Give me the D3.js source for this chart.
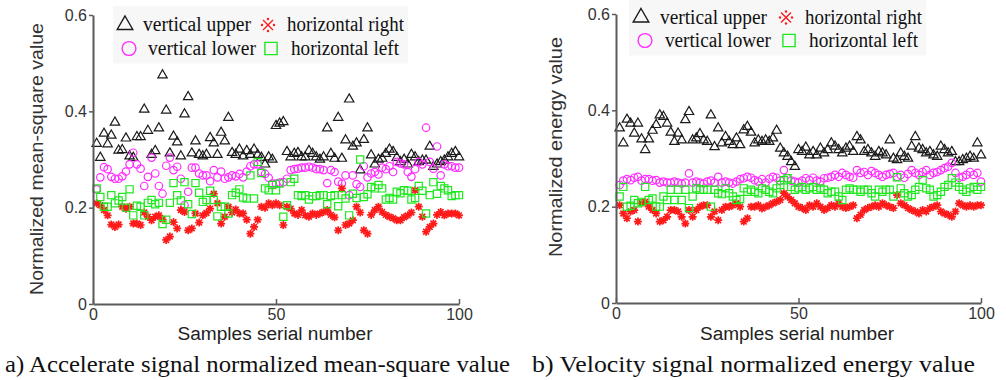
<!DOCTYPE html>
<html>
<head>
<meta charset="utf-8">
<script src="https://cdn.jsdelivr.net/npm/d3@7"></script>
<style>
body{margin:0;background:#fff}
svg{display:block}
</style>
</head>
<body>
<script>
// sample index (x) shared by every series
const samples=d3.range(1,101);

// a) accelerate signal, normalized mean-square value
const accUpper=[0.333,0.304,0.354,0.332,0.35,0.377,0.319,0.32,0.344,0.307,
  0.304,0.347,0.347,0.404,0.36,0.31,0.318,0.365,0.475,0.402,
  0.313,0.348,0.336,0.307,0.394,0.43,0.313,0.338,0.31,0.307,
  0.31,0.345,0.334,0.31,0.356,0.338,0.387,0.314,0.31,0.321,
  0.307,0.318,0.31,0.321,0.31,0.304,0.29,0.305,0.30,0.37,
  0.375,0.378,0.316,0.305,0.312,0.314,0.305,0.305,0.318,0.312,
  0.305,0.30,0.305,0.365,0.312,0.302,0.387,0.302,0.34,0.425,
  0.327,0.334,0.278,0.341,0.365,0.309,0.29,0.30,0.302,0.312,
  0.321,0.316,0.304,0.295,0.30,0.29,0.31,0.305,0.295,0.298,
  0.298,0.327,0.285,0.29,0.295,0.298,0.305,0.312,0.316,0.305];
const accLower=[0.238,0.263,0.284,0.28,0.264,0.26,0.26,0.265,0.275,0.29,
  0.314,0.29,0.281,0.245,0.264,0.304,0.271,0.245,0.229,0.287,
  0.304,0.278,0.285,0.26,0.205,0.233,0.283,0.283,0.271,0.267,
  0.267,0.255,0.278,0.263,0.275,0.26,0.263,0.267,0.265,0.27,
  0.263,0.275,0.286,0.29,0.29,0.274,0.27,0.262,0.25,0.25,
  0.252,0.253,0.26,0.278,0.28,0.281,0.283,0.283,0.285,0.283,
  0.28,0.28,0.278,0.251,0.278,0.274,0.254,0.25,0.267,0.226,
  0.267,0.249,0.243,0.286,0.263,0.271,0.274,0.269,0.283,0.28,
  0.286,0.274,0.295,0.292,0.29,0.274,0.264,0.28,0.295,0.29,
  0.366,0.295,0.281,0.327,0.267,0.29,0.286,0.286,0.283,0.283];
const accRight=[0.209,0.205,0.195,0.184,0.165,0.16,0.165,0.202,0.198,0.202,
  0.167,0.167,0.164,0.19,0.181,0.174,0.181,0.184,0.176,0.133,
  0.14,0.17,0.157,0.195,0.191,0.153,0.157,0.188,0.169,0.184,
  0.189,0.198,0.229,0.209,0.167,0.181,0.202,0.19,0.196,0.188,
  0.188,0.175,0.146,0.16,0.175,0.202,0.2,0.209,0.205,0.209,
  0.205,0.164,0.202,0.198,0.188,0.185,0.195,0.184,0.181,0.188,
  0.185,0.188,0.191,0.195,0.185,0.18,0.153,0.24,0.164,0.167,
  0.174,0.202,0.19,0.153,0.146,0.185,0.195,0.202,0.191,0.185,
  0.181,0.178,0.174,0.174,0.18,0.184,0.19,0.236,0.202,0.181,
  0.15,0.16,0.167,0.185,0.191,0.184,0.188,0.188,0.188,0.184];
const accLeft=[0.24,0.222,0.202,0.202,0.226,0.209,0.215,0.222,0.20,0.238,
  0.184,0.204,0.202,0.184,0.21,0.216,0.207,0.21,0.166,0.175,
  0.21,0.251,0.226,0.215,0.253,0.207,0.187,0.251,0.231,0.212,
  0.216,0.235,0.216,0.182,0.202,0.202,0.188,0.226,0.231,0.238,
  0.221,0.219,0.267,0.219,0.295,0.272,0.24,0.236,0.247,0.236,
  0.25,0.181,0.205,0.253,0.26,0.226,0.224,0.226,0.217,0.224,
  0.224,0.226,0.226,0.207,0.224,0.226,0.203,0.226,0.219,0.184,
  0.229,0.22,0.30,0.222,0.228,0.243,0.24,0.247,0.24,0.217,
  0.22,0.217,0.233,0.23,0.236,0.235,0.217,0.22,0.245,0.235,
  0.188,0.226,0.253,0.229,0.245,0.24,0.236,0.224,0.226,0.226];

// b) velocity signal, normalized energy value
const velUpper=[0.363,0.332,0.381,0.373,0.352,0.373,0.34,0.318,0.34,0.358,
  0.37,0.39,0.387,0.373,0.354,0.335,0.352,0.338,0.38,0.397,
  0.338,0.342,0.351,0.338,0.335,0.39,0.324,0.363,0.332,0.345,
  0.335,0.328,0.342,0.328,0.359,0.366,0.354,0.332,0.338,0.335,
  0.338,0.335,0.342,0.358,0.321,0.311,0.304,0.293,0.283,0.318,
  0.314,0.323,0.307,0.314,0.307,0.321,0.311,0.318,0.332,0.325,
  0.318,0.311,0.321,0.325,0.314,0.345,0.338,0.314,0.318,0.311,
  0.304,0.314,0.311,0.307,0.338,0.3,0.297,0.311,0.304,0.3,
  0.325,0.345,0.321,0.318,0.311,0.314,0.307,0.304,0.325,0.318,
  0.311,0.314,0.293,0.293,0.297,0.3,0.304,0.3,0.332,0.307];
const velLower=[0.245,0.254,0.257,0.255,0.26,0.262,0.254,0.257,0.257,0.254,
  0.255,0.25,0.252,0.25,0.25,0.252,0.25,0.248,0.25,0.269,
  0.25,0.252,0.25,0.248,0.252,0.254,0.25,0.262,0.25,0.252,
  0.25,0.248,0.252,0.257,0.259,0.262,0.26,0.255,0.252,0.257,
  0.25,0.258,0.262,0.26,0.254,0.276,0.259,0.254,0.252,0.25,
  0.254,0.259,0.255,0.26,0.254,0.252,0.259,0.26,0.262,0.266,
  0.262,0.27,0.266,0.262,0.26,0.276,0.27,0.272,0.266,0.274,
  0.27,0.266,0.262,0.266,0.268,0.27,0.262,0.266,0.26,0.268,
  0.276,0.27,0.266,0.272,0.276,0.266,0.27,0.272,0.276,0.28,
  0.283,0.291,0.27,0.26,0.262,0.266,0.272,0.266,0.27,0.252];
const velRight=[0.203,0.186,0.176,0.19,0.193,0.169,0.207,0.21,0.2,0.193,
  0.186,0.169,0.172,0.179,0.193,0.193,0.19,0.179,0.165,0.193,
  0.179,0.193,0.2,0.203,0.203,0.179,0.19,0.172,0.193,0.2,
  0.2,0.203,0.207,0.2,0.169,0.176,0.2,0.2,0.203,0.196,
  0.2,0.203,0.207,0.21,0.214,0.228,0.221,0.214,0.207,0.2,
  0.197,0.193,0.203,0.2,0.207,0.2,0.193,0.197,0.203,0.2,
  0.207,0.2,0.197,0.2,0.203,0.176,0.183,0.193,0.197,0.2,
  0.203,0.2,0.207,0.203,0.2,0.197,0.224,0.207,0.203,0.197,
  0.193,0.19,0.186,0.193,0.19,0.197,0.2,0.203,0.19,0.186,
  0.183,0.179,0.19,0.207,0.203,0.2,0.203,0.2,0.203,0.203];
const velLeft=[0.221,0.241,0.2,0.202,0.214,0.207,0.21,0.241,0.214,0.217,
  0.2,0.2,0.221,0.214,0.235,0.214,0.235,0.214,0.235,0.197,
  0.221,0.238,0.235,0.235,0.235,0.2,0.235,0.228,0.226,0.238,
  0.228,0.221,0.214,0.216,0.238,0.231,0.235,0.231,0.228,0.238,
  0.235,0.231,0.228,0.238,0.245,0.255,0.259,0.241,0.235,0.238,
  0.241,0.235,0.238,0.241,0.235,0.238,0.235,0.228,0.231,0.231,
  0.221,0.214,0.235,0.238,0.235,0.235,0.231,0.235,0.235,0.228,
  0.221,0.235,0.231,0.235,0.235,0.221,0.261,0.238,0.228,0.221,
  0.224,0.235,0.241,0.255,0.238,0.235,0.221,0.224,0.231,0.241,
  0.245,0.259,0.25,0.241,0.235,0.231,0.238,0.241,0.235,0.241];

const seriesNames=["vertical upper","vertical lower","horizontal right","horizontal left"];
const yTicks=[0,0.2,0.4,0.6];
const xTicks=[0,50,100];

const w=1006, h=380;
const svg=d3.select("body").append("svg").attr("width",w).attr("height",h);

const SANS="'Liberation Sans', Arial, sans-serif";
const SERIF="'Liberation Serif', 'Times New Roman', serif";

// asterisk "*" marker
const star=r=>{
  const k=r*0.72;
  return `M${-r},0L${r},0M0,${-r}L0,${r}M${-k},${-k}L${k},${k}M${-k},${k}L${k},${-k}`;
};

const styles=[
  {kind:"tri", stroke:"#1a1a1a"},
  {kind:"circle", stroke:"#ff2cff"},
  {kind:"star", stroke:"#ff1a1a"},
  {kind:"square", stroke:"#1fe81f"}
];
function markerPath(kind,big){
  if(kind==="tri") return d3.symbol(d3.symbolTriangle, big?105:38)();
  if(kind==="circle") return d3.symbol(d3.symbolCircle, big?150:44)();
  if(kind==="square") return d3.symbol(d3.symbolSquare, big?150:52)();
  return star(4);
}

const panels=[
  {x0:93,x1:459,y0:304,y1:15,
   series:[accUpper,accLower,accRight,accLeft],
   ylabel:"Normalized mean-square value", ylx:43, lyc:159, lyLen:272,
   xlabelX:275, xlLen:195,
   caption:"a) Accelerate signal normalized mean-square value", capX:5, capLen:505,
   leg:{x:125,y:25,tx:143,col2:268,tx2:287,dy:23.5,len:[108,108],len2:[117,108]}},
  {x0:616,x1:981,y0:303,y1:14,
   series:[velUpper,velLower,velRight,velLeft],
   ylabel:"Normalized energy value", ylx:562, lyc:147, lyLen:220,
   xlabelX:797, xlLen:194,
   caption:"b) Velocity signal normalized energy value", capX:532, capLen:443,
   leg:{x:641,y:17.5,tx:660,col2:786,tx2:805,dy:23,len:[107,106],len2:[117,109]}}
];

panels.forEach(p=>{
  const g=svg.append("g");
  const x=d3.scaleLinear().domain([0,100]).range([p.x0,p.x1]);
  const y=d3.scaleLinear().domain([0,0.6]).range([p.y0,p.y1]);

  // faint legend background
  const L=p.leg;
  g.append("rect").attr("x",L.x-12).attr("y",L.y-19).attr("width",L.tx2+L.len2[0]-L.x+16)
    .attr("height",L.dy+34).attr("fill","#f7f7f7");

  // data markers
  p.series.forEach((vals,k)=>{
    const st=styles[k];
    g.append("g").selectAll("path").data(vals).join("path")
      .attr("transform",(d,i)=>`translate(${x(samples[i])},${y(d)})`)
      .attr("d",markerPath(st.kind,false))
      .attr("fill","none")
      .attr("stroke",st.stroke)
      .attr("stroke-width",st.kind==="star"?1.7:1.2);
  });

  // axes
  const yAxis=d3.axisLeft(y).tickValues(yTicks).tickSizeInner(4).tickSizeOuter(0).tickPadding(2)
    .tickFormat(d=>d===0?"0":d.toFixed(1));
  const ya=g.append("g").attr("transform",`translate(${p.x0},0)`).call(yAxis);
  const xAxis=d3.axisBottom(x).tickValues(xTicks).tickSizeInner(-5).tickSizeOuter(0).tickPadding(5);
  const xa=g.append("g").attr("transform",`translate(0,${p.y0})`).call(xAxis);
  [ya,xa].forEach(a=>{
    a.select(".domain").attr("stroke","#5a5a5a").attr("stroke-width",2);
    a.selectAll(".tick line").attr("stroke","#5a5a5a").attr("stroke-width",1.5);
    a.selectAll(".tick text").attr("fill","#333").style("font-family",SANS).style("font-size","16px");
  });

  // axis titles
  g.append("text").text(p.ylabel)
    .attr("transform",`translate(${p.ylx},${p.lyc}) rotate(-90)`)
    .attr("text-anchor","middle").attr("fill","#333")
    .attr("textLength",p.lyLen).attr("lengthAdjust","spacingAndGlyphs")
    .style("font-family",SANS).style("font-size","19px");
  g.append("text").text("Samples serial number")
    .attr("x",p.xlabelX).attr("y",340).attr("text-anchor","middle").attr("fill","#222")
    .attr("textLength",p.xlLen).attr("lengthAdjust","spacingAndGlyphs")
    .style("font-family",SANS).style("font-size","18px");
  g.append("text").text(p.caption)
    .attr("x",p.capX).attr("y",372).attr("fill","#111")
    .attr("textLength",p.capLen).attr("lengthAdjust","spacingAndGlyphs")
    .style("font-family",SERIF).style("font-size","23px");

  // legend: two columns, two rows
  const legItems=[
    {k:0,mx:L.x,my:L.y,tx:L.tx,len:L.len[0]},
    {k:1,mx:L.x+4,my:L.y+L.dy,tx:L.tx+5,len:L.len[1]},
    {k:2,mx:L.col2,my:L.y,tx:L.tx2,len:L.len2[0]},
    {k:3,mx:L.col2+3,my:L.y+L.dy,tx:L.tx2+4,len:L.len2[1]}
  ];
  legItems.forEach(it=>{
    const st=styles[it.k];
    const m=g.append("g").attr("transform",`translate(${it.mx},${it.my})`);
    if(st.kind==="star"){
      // the "※" legend glyph: a cross with four dots
      m.append("path").attr("d","M-5,-5L5,5M-5,5L5,-5").attr("stroke",st.stroke).attr("stroke-width",1.4);
      [[0,-6],[6,0],[0,6],[-6,0]].forEach(([dx,dy])=>
        m.append("circle").attr("cx",dx).attr("cy",dy).attr("r",1.2).attr("fill",st.stroke));
    } else {
      m.append("path").attr("d",markerPath(st.kind,true)).attr("fill","none")
        .attr("stroke",st.stroke).attr("stroke-width",1.4);
    }
    g.append("text").text(seriesNames[it.k])
      .attr("x",it.tx).attr("y",it.my+6).attr("fill","#111")
      .attr("textLength",it.len).attr("lengthAdjust","spacingAndGlyphs")
      .style("font-family",SERIF).style("font-size","20px");
  });
});
</script>
</body>
</html>
